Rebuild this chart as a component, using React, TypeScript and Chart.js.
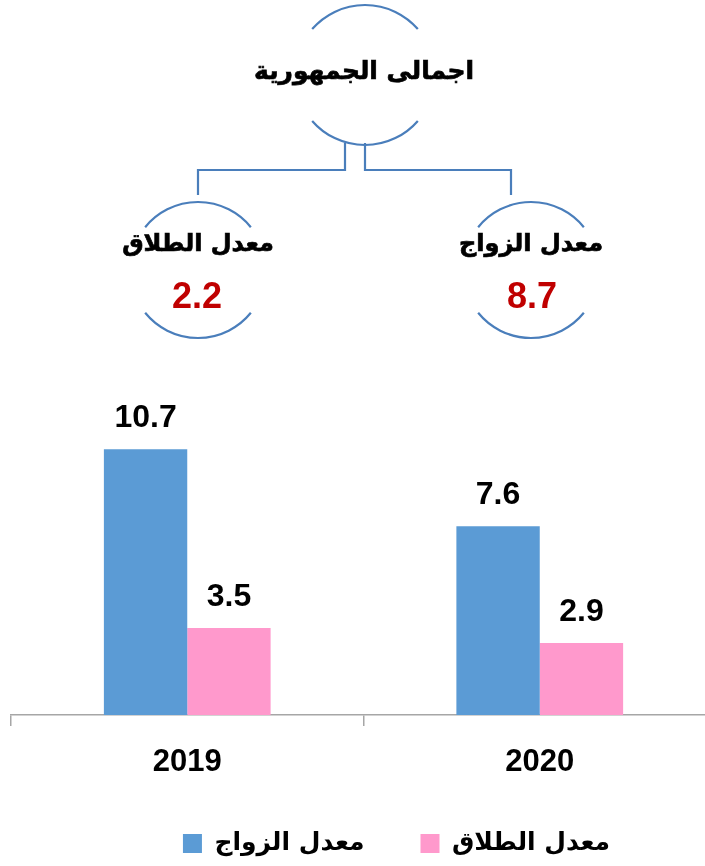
import React, { useEffect, useRef } from "react";
import { Chart, registerables } from "chart.js";

Chart.register(...registerables);

// ---- data ----
const categories = ["2019", "2020"];
const seriesNames = ["معدل الزواج", "معدل الطلاق"];
const marriageRates = [10.7, 7.6];
const divorceRates = [3.5, 2.9];
const headerTitle = "اجمالى الجمهورية";
const summaryLabels = ["معدل الطلاق", "معدل الزواج"];
const summaryValues = ["2.2", "8.7"];

// ---- styles ----
const BLUE = "#5B9BD5";
const PINK = "#FF99CC";
const LINE = "#4A7EBB";
const AXIS = "#A6A6A6";
const ARABIC = "'DejaVu Sans', sans-serif";
const LATIN = "'Liberation Sans', Arial, sans-serif";

const valueLabels = {
  id: "valueLabels",
  afterDatasetsDraw(chart: any) {
    const ctx = chart.ctx;
    ctx.save();
    ctx.font = `bold 32px ${LATIN}`;
    ctx.fillStyle = "#000";
    ctx.textAlign = "center";
    ctx.textBaseline = "alphabetic";
    chart.data.datasets.forEach((ds: any, i: number) => {
      const meta = chart.getDatasetMeta(i);
      meta.data.forEach((bar: any, j: number) => {
        ctx.fillText(String(ds.data[j]), bar.x, bar.y - 22);
      });
    });
    ctx.restore();
  },
};

function arcPath(cx: number, cy: number, r: number, halfDeg: number, top: boolean) {
  const a = (halfDeg * Math.PI) / 180;
  const dx = r * Math.sin(a);
  const dy = r * Math.cos(a);
  const y = top ? cy - dy : cy + dy;
  return `M ${cx - dx} ${y} A ${r} ${r} 0 0 ${top ? 1 : 0} ${cx + dx} ${y}`;
}

export default function App() {
  const ref = useRef<HTMLCanvasElement>(null);

  useEffect(() => {
    if (!ref.current) return;
    const chart = new Chart(ref.current, {
      type: "bar",
      data: {
        labels: categories,
        datasets: [
          { label: seriesNames[0], data: marriageRates, backgroundColor: BLUE, borderWidth: 0 },
          { label: seriesNames[1], data: divorceRates, backgroundColor: PINK, borderWidth: 0 },
        ],
      },
      options: {
        responsive: false,
        animation: false,
        devicePixelRatio: 1,
        layout: { padding: { left: 11, right: 0, top: 417, bottom: 0 } },
        datasets: { bar: { categoryPercentage: 0.473, barPercentage: 1 } },
        scales: {
          x: {
            grid: {
              display: true,
              drawOnChartArea: false,
              drawTicks: true,
              tickLength: 11,
              color: AXIS,
              lineWidth: 1.5,
              offset: true,
            },
            border: { display: true, color: AXIS, width: 1.5 },
            ticks: {
              color: "#000",
              font: { family: LATIN, size: 31, weight: "bold", lineHeight: 0.71 },
              padding: 25,
            },
            afterFit(s: any) {
              s.height = 60;
            },
          } as any,
          y: { display: false, min: 0, max: 12 },
          yR: {
            type: "linear",
            position: "right",
            display: true,
            grid: { display: false },
            border: { display: false },
            ticks: { display: false },
            afterFit(s: any) {
              s.width = 66;
            },
          } as any,
        },
        plugins: {
          legend: {
            display: true,
            position: "bottom",
            labels: {
              boxWidth: 19,
              boxHeight: 19,
              padding: 56,
              color: "#000",
              font: { family: ARABIC, size: 25, weight: "bold" },
            },
          },
          tooltip: { enabled: false },
        },
      },
      plugins: [valueLabels],
    });
    return () => chart.destroy();
  }, []);

  const arabicText = {
    textAnchor: "middle" as const,
    fontFamily: ARABIC,
    fontWeight: "bold",
    fill: "#000",
    stroke: "#000",
    strokeWidth: 0.7,
  };

  return (
    <div
      style={{
        position: "absolute",
        left: 0,
        top: 0,
        width: 705,
        height: 866,
        overflow: "hidden",
        background: "#fff",
      }}
    >
      <canvas ref={ref} width={782} height={866} style={{ display: "block", width: 782, height: 866 }} />
      <svg
        width={705}
        height={866}
        style={{ position: "absolute", left: 0, top: 0, pointerEvents: "none" }}
      >
        <g fill="none" stroke={LINE} strokeWidth={2.2}>
          <path d={arcPath(365, 75, 70, 49, true)} />
          <path d={arcPath(365, 75, 70, 49, false)} />
          <path d={arcPath(198, 270, 68, 51, true)} />
          <path d={arcPath(198, 270, 68, 51, false)} />
          <path d={arcPath(531, 270, 68, 51, true)} />
          <path d={arcPath(531, 270, 68, 51, false)} />
          <polyline points="345,143 345,170 198,170 198,195" />
          <polyline points="365,143 365,170 511,170 511,195" />
        </g>
        <text x={364} y={79} fontSize={25} {...arabicText}>
          {headerTitle}
        </text>
        <text x={198} y={251} fontSize={24} {...arabicText}>
          {summaryLabels[0]}
        </text>
        <text x={531} y={251} fontSize={24} {...arabicText}>
          {summaryLabels[1]}
        </text>
        <text x={197} y={308} textAnchor="middle" fontFamily={LATIN} fontWeight="bold" fontSize={36} fill="#C00000">
          {summaryValues[0]}
        </text>
        <text x={532} y={308} textAnchor="middle" fontFamily={LATIN} fontWeight="bold" fontSize={36} fill="#C00000">
          {summaryValues[1]}
        </text>
      </svg>
    </div>
  );
}
